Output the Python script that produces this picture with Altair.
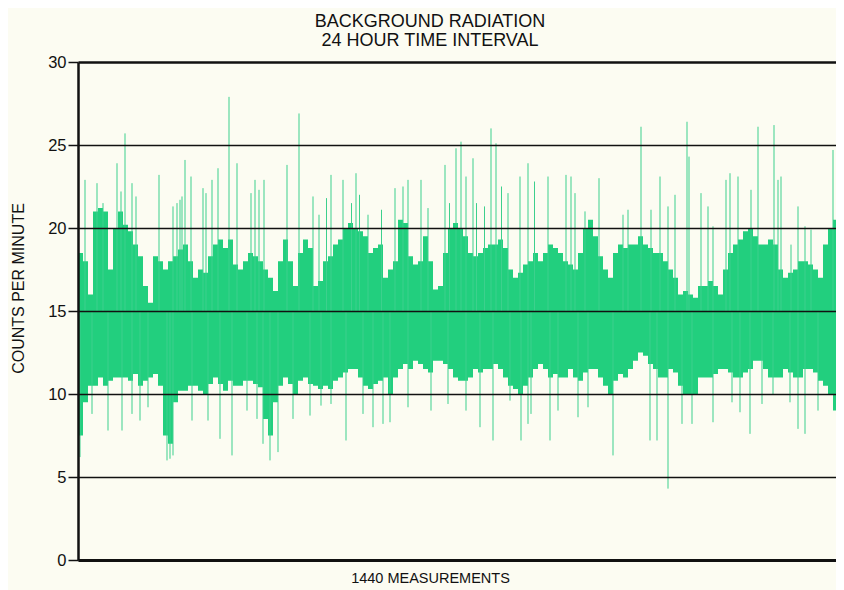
import altair as alt
import pandas as pd

MEAS_PER_BIN = 9

core_top = [
    18.5, 18.0, 16.0, 21.0, 21.2, 21.0, 17.5, 20.0, 21.0, 20.2, 19.8, 19.0, 18.3, 16.5, 15.5, 18.3,
    18.0, 17.5, 18.0, 18.3, 18.7, 19.0, 18.0, 17.0, 17.5, 17.3, 18.3, 19.0, 19.3, 18.8, 19.3,
    17.8, 17.5, 18.0, 18.5, 18.3, 18.0, 17.5, 17.0, 16.2, 18.0, 19.3, 18.0, 16.5, 18.5, 19.3, 18.8,
    16.5, 16.8, 18.0, 18.3, 19.0, 19.3, 20.0, 20.3, 20.0, 19.8, 19.5, 18.5, 18.8, 19.0, 17.0,
    17.5, 18.0, 20.5, 20.3, 18.3, 17.8, 18.0, 19.5, 18.0, 16.3, 16.5, 18.5, 20.0, 20.3, 20.0, 19.5,
    18.5, 18.3, 18.5, 18.8, 19.0, 19.0, 19.3, 18.8, 17.5, 17.0, 17.3, 17.8, 18.0, 18.5, 18.0,
    18.5, 19.0, 18.8, 18.5, 18.0, 17.8, 17.5, 18.5, 20.0, 20.5, 19.5, 18.3, 17.5, 17.0, 18.5, 19.0,
    18.8, 19.0, 19.0, 19.5, 19.0, 18.8, 18.5, 18.5, 18.0, 17.5, 17.0, 16.0, 16.2, 16.0, 15.8,
    16.5, 16.5, 16.8, 16.5, 16.0, 17.5, 18.5, 19.0, 19.3, 19.8, 20.0, 19.5, 19.0, 19.0, 19.3, 19.0,
    17.5, 17.0, 17.3, 17.5, 18.0, 18.0, 17.8, 17.5, 17.0, 19.0, 20.0, 20.5, 20.0, 19.5, 19.0, 18.5,
]
core_bot = [
    7.5, 9.5, 10.5, 10.5, 11.0, 10.5, 10.8, 11.0, 11.0, 11.0, 10.8, 11.2, 10.5, 10.8, 11.0, 11.2,
    10.5, 7.5, 7.0, 9.5, 10.2, 10.2, 10.5, 10.5, 10.2, 10.0, 10.6, 11.0, 10.6, 10.2, 10.8,
    10.5, 10.5, 10.8, 10.8, 10.6, 10.4, 8.5, 7.5, 9.5, 10.5, 11.0, 10.6, 10.0, 10.8, 11.0, 10.6,
    10.5, 10.3, 10.5, 10.3, 10.8, 11.0, 11.3, 11.5, 11.5, 11.0, 10.5, 10.3, 10.6, 10.8, 11.0,
    10.0, 11.0, 11.5, 11.8, 11.5, 12.0, 11.8, 11.5, 11.3, 12.0, 12.0, 11.8, 11.5, 11.0, 10.8, 10.8,
    11.0, 11.5, 11.3, 11.5, 11.5, 11.8, 11.5, 11.0, 10.5, 10.3, 10.0, 10.5, 11.0, 11.5, 11.8,
    11.5, 11.0, 11.2, 11.0, 11.0, 11.5, 11.0, 10.8, 11.3, 11.5, 11.5, 11.0, 10.5, 10.0, 10.8, 11.2,
    11.0, 11.5, 12.0, 12.5, 12.3, 11.8, 11.5, 11.0, 11.0, 11.5, 11.3, 10.5, 10.0, 10.0, 10.0,
    11.0, 11.0, 11.0, 11.2, 11.5, 11.5, 11.3, 11.0, 11.0, 11.3, 11.5, 12.0, 12.0, 11.5, 11.0, 11.0,
    11.0, 11.5, 11.3, 11.0, 11.0, 11.5, 11.5, 11.3, 10.8, 10.5, 10.0, 9.0, 8.5, 9.0, 9.5, 10.0,
]

spike_up_bin = [
    1.4, 3.8, 5.0, 7.8, 8.6, 9.4, 10.8, 11.6, 16.2, 19.0, 19.8, 20.4, 20.8, 21.4, 22.6, 25.0,
    25.6, 26.8, 28.0, 30.2, 31.8, 34.6, 35.4, 36.2, 37.2, 41.8, 44.2, 47.0, 48.2, 49.7, 50.6,
    53.0, 54.7, 55.6, 56.3, 58.0, 60.7, 63.4, 65.0, 66.0, 68.6, 70.0, 73.4, 74.3, 75.6, 76.6,
    77.6, 79.0, 79.7, 81.3, 82.6, 83.6, 84.7, 86.0, 88.4, 90.0, 91.3, 94.0, 97.6, 98.6, 99.4,
    101.4, 104.2, 109.0, 110.0, 112.6, 114.6, 116.4, 118.0, 119.4, 121.8, 122.2, 124.6, 126.0,
    127.0, 129.6, 130.4, 132.0, 134.6, 136.0, 139.2, 140.0, 140.6, 142.6, 144.0, 145.4, 146.6,
    151.0, 152.0,
]
spike_up_val = [
    22.9, 22.7, 21.5, 23.9, 22.2, 25.7, 22.7, 21.9, 23.2, 21.3, 21.5, 21.7, 21.9, 24.1, 23.1, 22.4,
    22.1, 22.9, 23.6, 27.9, 23.9, 22.1, 22.9, 22.3, 22.9, 23.8, 26.9, 21.9, 20.8, 21.8, 23.2,
    22.9, 21.5, 23.3, 22.0, 20.8, 21.1, 22.4, 22.5, 22.9, 22.9, 21.2, 23.8, 21.5, 24.8, 25.2,
    23.1, 24.2, 21.5, 21.3, 26.0, 25.1, 22.5, 22.1, 23.1, 23.9, 22.8, 23.1, 23.2, 23.1, 22.1,
    21.0, 23.0, 20.8, 21.1, 26.1, 21.1, 23.1, 21.3, 22.0, 26.4, 24.3, 22.1, 21.3,
    20.1, 22.9, 23.3, 23.1, 22.3, 26.1, 26.2, 22.9, 23.1, 19.0, 21.3, 20.1, 19.9,
    24.7, 21.9,
]
spike_down_bin = [
    0.4, 2.8, 6.0, 8.8, 10.8, 12.4, 14.0, 17.8, 18.4, 19.0, 22.8, 26.0, 28.4, 30.8, 33.8, 35.8,
    37.0, 38.4, 40.0, 43.0, 46.4, 48.6, 50.6, 53.6, 57.0, 59.0, 61.0, 62.4, 66.0, 70.6, 74.0,
    77.6, 80.4, 83.0, 86.4, 88.6, 90.0, 90.6, 94.4, 96.0, 100.0, 102.0, 107.0, 114.4, 115.8,
    118.0, 120.8, 122.8, 127.0, 130.8, 132.4, 134.4, 136.8, 139.0, 142.4, 144.0, 145.4, 148.0,
    152.0,
]
spike_down_val = [
    6.2, 8.8, 7.8, 7.8, 8.8, 8.4, 9.2, 6.0, 6.1, 6.3, 8.4, 8.4, 7.3, 6.3, 9.0, 8.5,
    7.0, 6.0, 6.5, 8.5, 8.7, 9.3, 9.4, 7.2, 8.8, 8.0, 8.2, 8.3, 9.2, 9.0, 9.4,
    9.0, 8.0, 7.2, 9.6, 7.2, 8.2, 8.8, 7.2, 9.0, 8.6, 9.2, 6.3, 7.2, 7.2,
    4.3, 8.2, 8.2, 8.3, 9.5, 8.9, 7.6, 9.4, 10.0, 9.5, 7.9, 7.6, 9.0,
    8.0,
]

y_ticks = [0, 5, 10, 15, 20, 25, 30]

# the scanned page is cut at its right edge: only part of the 1440 measurements is visible
PLOT_W = 758
VISIBLE_MEAS = PLOT_W / 5 * MEAS_PER_BIN

core = pd.DataFrame({
    "measurement": [i * MEAS_PER_BIN for i in range(len(core_top))],
    "top": core_top,
    "bot": core_bot,
})
spikes = pd.DataFrame({
    "measurement": [b * MEAS_PER_BIN for b in spike_up_bin + spike_down_bin],
    "value": spike_up_val + spike_down_val,
})

FONT = "Liberation Sans"
GREEN = "#22cf7e"
INK = "#111111"

x_enc = alt.X(
    "measurement:Q",
    scale=alt.Scale(domain=[0, VISIBLE_MEAS], nice=False, zero=False),
    axis=alt.Axis(
        title="1440 MEASUREMENTS", labels=False, ticks=False, grid=False,
        domainWidth=3, domainColor=INK,
        titleFont=FONT, titleFontSize=14.5, titleFontWeight="normal", titleColor=INK,
        titleX=352, titleY=18, titleAlign="center", titleBaseline="middle",
        zindex=2,
    ),
)
y_axis = alt.Axis(
    title="COUNTS PER MINUTE", values=y_ticks, grid=True,
    gridColor=INK,
    gridWidth={"condition": {"test": "datum.value == 30", "value": 2.6}, "value": 1.4},
    domainWidth=2.5, domainColor=INK,
    tickColor=INK, tickSize=10, tickWidth=1.5,
    labelFont=FONT, labelFontSize=16.5, labelColor=INK, labelPadding=2,
    titleFont=FONT, titleFontSize=16, titleFontWeight="normal", titleColor=INK,
    titleX=-60, titleY=226, titleAlign="center", titleBaseline="middle",
    zindex=1,
)
y_scale = alt.Scale(domain=[0, 30], nice=False)

band = alt.Chart(core).mark_area(color=GREEN, interpolate="step-after", clip=True).encode(
    x=x_enc,
    y=alt.Y("bot:Q", scale=y_scale, axis=y_axis),
    y2="top:Q",
)
spike_rules = alt.Chart(spikes).mark_rule(color="#3dd08d", strokeWidth=1, clip=True).encode(
    x=x_enc,
    y=alt.Y("value:Q", scale=y_scale, axis=y_axis),
    y2=alt.datum(15),
)

chart = alt.layer(band, spike_rules).properties(
    width=PLOT_W,
    height=498,
    padding={"left": 70, "top": 54, "right": 0, "bottom": 30},
    autosize=alt.AutoSizeParams(type="none"),
    title=alt.TitleParams(
        text=["BACKGROUND RADIATION", "24 HOUR TIME INTERVAL"],
        font=FONT, fontSize=18, fontWeight="normal", color=INK,
        anchor="middle", dx=-27, offset=4, lineHeight=19,
    ),
).configure(
    background="#fcfcf2",
).configure_view(
    strokeWidth=0,
)

chart.save("out.html", embed_options={"renderer": "svg", "actions": False})
